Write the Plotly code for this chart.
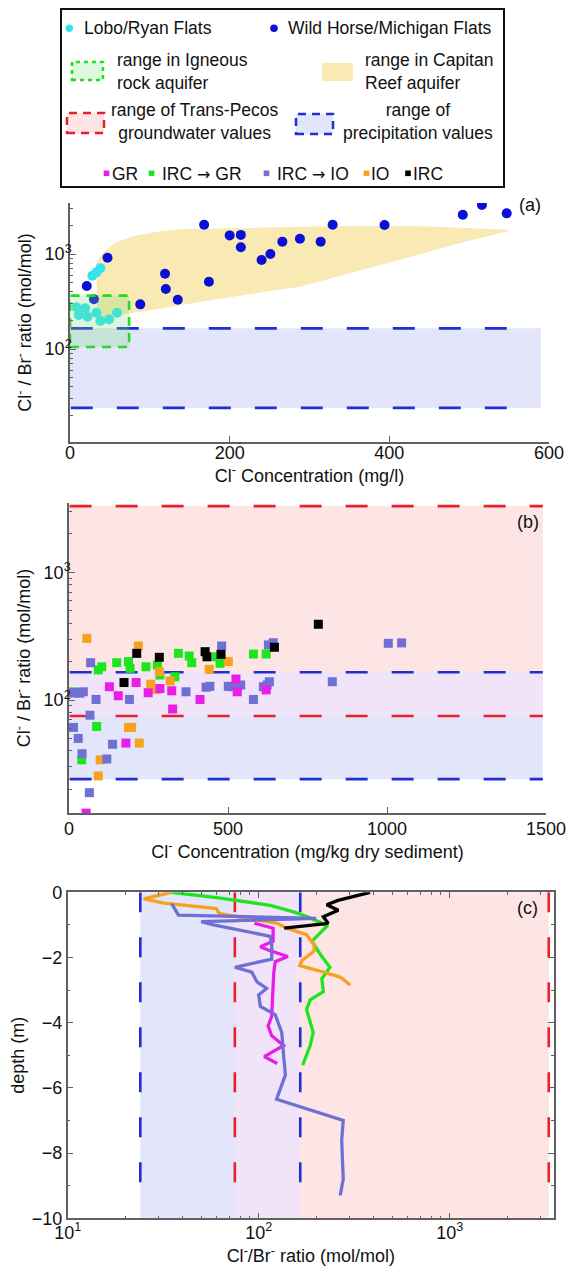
import plotly.graph_objects as go

W, H = 568, 1272
FONT = "Liberation Sans, Arial, sans-serif"

# ---------------- panel (a): groundwater samples ----------------
lobo_cl = [8, 11, 19, 22, 28, 33, 33, 38, 38, 49, 59]
lobo_ratio = [275, 228, 268, 219, 590, 640, 241, 710, 197, 205, 241]

wild_cl = [21, 30, 47, 88, 119, 120, 135, 168, 174, 200, 214, 214, 240, 251,
           266, 288, 314, 329, 394, 492, 516, 547]
wild_ratio = [460, 334, 915, 295, 620, 428, 330, 2030, 511, 1570, 1590, 1180,
              865, 1000, 1350, 1450, 1350, 2030, 2020, 2590, 3280, 2680]

# Capitan Reef aquifer envelope (upper edge left->right, lower edge right->left)
capitan_top_cl = [33, 40, 55, 80, 110, 140, 250, 350, 450, 549]
capitan_top_ratio = [820, 1000, 1300, 1550, 1720, 1830, 1900, 1980, 1950, 1800]
capitan_bot_cl = [549, 480, 420, 350, 288, 204, 138, 63, 34]
capitan_bot_ratio = [1750, 1250, 900, 620, 453, 355, 290, 228, 215]

# Igneous rock aquifer range
igneous_cl = [0, 74]
igneous_ratio = [105, 365]

# Reference ranges of Cl/Br ratio
precip_range = [24, 165]
transpecos_range = [75, 3300]
cl_extent_a = [0, 590]
cl_extent_b = [0, 1490]

# ---------------- panel (b): sediment samples ----------------
gr_cl = [54, 127, 155, 179, 211, 249, 286, 323, 326, 412, 525, 529, 620]
gr_ratio = [13, 127, 108, 46, 137, 114, 123, 118, 85, 101, 146, 116, 120]

ircgr_cl = [14, 40, 87, 92, 103, 150, 187, 192, 242, 278, 286, 333, 344, 378,
            386, 464, 475, 580, 620]
ircgr_ratio = [116, 34, 62, 172, 182, 196, 200, 177, 182, 188, 157, 152, 232,
               221, 196, 218, 194, 229, 229]

ircio_cl = [3, 14, 19, 34, 45, 68, 85, 66, 14, 29, 41, 64, 119, 137, 190, 368,
            431, 443, 480, 501, 512, 529, 540, 580, 611, 623, 630, 627, 642,
            828, 1004, 1046]
ircio_ratio = [114, 114, 114, 113, 116, 196, 101, 76, 61, 50, 38, 18.8, 34.5,
               45, 101, 116, 126, 128, 265, 128, 127, 127, 131, 101, 127, 131,
               139, 270, 281, 139, 278, 280]

io_cl = [56, 92, 98, 187, 197, 218, 221, 257, 276, 284, 318, 441, 501]
io_ratio = [304, 25.4, 34, 61, 61, 265, 46, 133, 121, 167, 141, 174, 200]

irc_cl = [173, 213, 284, 428, 434, 478, 646, 784]
irc_ratio = [137, 232, 216, 239, 218, 228, 259, 392]

# ---------------- panel (c): depth profiles ----------------
p_gr_depth = [-0.95, -1.1, -1.5, -1.67, -1.77, -1.97, -2.13, -2.45, -2.85,
              -3.55, -3.8, -4.1, -4.4, -4.7, -5.04, -5.25]
p_gr_ratio = [95, 119, 119, 102, 112, 142, 122, 120, 119, 117, 117, 112, 117,
              135, 107, 125]

p_ircgr_depth = [0, -0.18, -0.4, -0.6, -0.75, -0.95, -1.05, -1.3, -1.5, -1.9,
                 -2.3, -2.65, -3.05, -3.3, -3.6, -4.3, -4.7, -5.3]
p_ircgr_ratio = [35, 63, 115, 152, 180, 215, 227, 205, 190, 210, 236, 214, 218,
                 186, 178, 193, 186, 170]

p_ircio_depth = [-0.35, -0.7, -0.8, -0.9, -1.0, -1.35, -1.6, -2.05, -2.3, -2.45,
                 -2.75, -2.95, -3.15, -3.5, -3.75, -4.3, -5.0, -5.6, -6.35,
                 -7.0, -7.6, -8.8, -9.3]
p_ircio_ratio = [35, 38, 200, 50, 58, 115, 117, 117, 75, 92, 98, 110, 100, 102,
                 122, 132, 135, 138, 124, 277, 272, 277, 267]

p_io_depth = [0, -0.2, -0.33, -0.5, -0.65, -0.95, -1.1, -1.3, -1.6, -1.8, -2.1,
              -2.25, -2.4, -2.6, -2.85]
p_io_ratio = [35, 25, 32, 60, 62, 125, 140, 178, 195, 195, 168, 164, 205, 267,
              302]

p_irc_depth = [0, -0.25, -0.38, -0.55, -0.75, -0.95, -1.1]
p_irc_ratio = [383, 260, 227, 261, 218, 231, 136]

depth_extent = [-10, 0]

# ---------------- colours ----------------
C_CYAN = "#35e3ef"
C_BLUE = "#0b10d6"
C_GR = "#e81ee8"
C_IRCGR = "#1ee61e"
C_IRCIO = "#6f70d4"
C_IO = "#f7a21e"
C_IRC = "#000000"
C_BLUE_DASH = "#1f2fd0"
C_RED_DASH = "#e8202a"
FILL_BLUE = "#e3e6fa"
FILL_PINK = "#fde5e5"
FILL_BOTH = "#f1e4f8"
FILL_YELLOW = "#f9e9b3"
FILL_GREEN = "rgba(120,225,120,0.25)"
DASH = "22px,24px"
AXIS_GREY = "#606060"

fig = go.Figure()


def rect(xs, ys, color, xa, ya, line=None):
    """Filled rectangle spanning xs x ys, drawn as a closed scatter."""
    x0, x1 = xs
    y0, y1 = ys
    fig.add_trace(go.Scatter(
        x=[x0, x1, x1, x0, x0], y=[y0, y0, y1, y1, y0], mode="lines",
        fill="toself", fillcolor=color,
        line=line if line else dict(width=0, color=color),
        hoverinfo="skip", showlegend=False, xaxis=xa, yaxis=ya))


def hline(xs, yv, color, xa, ya):
    fig.add_trace(go.Scatter(
        x=list(xs), y=[yv, yv], mode="lines",
        line=dict(color=color, width=2.6, dash=DASH),
        hoverinfo="skip", showlegend=False, xaxis=xa, yaxis=ya))


def vline(xv, ys, color, xa, ya):
    fig.add_trace(go.Scatter(
        x=[xv, xv], y=[ys[1], ys[0]], mode="lines",
        line=dict(color=color, width=2.6, dash="20px,25px"),
        hoverinfo="skip", showlegend=False, xaxis=xa, yaxis=ya))


# ===== panel (a) =====
rect(cl_extent_a, precip_range, FILL_BLUE, "x", "y")
fig.add_trace(go.Scatter(
    x=capitan_top_cl + capitan_bot_cl + capitan_top_cl[:1],
    y=capitan_top_ratio + capitan_bot_ratio + capitan_top_ratio[:1],
    mode="lines", fill="toself", fillcolor=FILL_YELLOW,
    line=dict(width=0, color=FILL_YELLOW), hoverinfo="skip",
    showlegend=False, xaxis="x", yaxis="y"))
hline([cl_extent_a[0] + 1, cl_extent_a[1] - 25], precip_range[1], C_BLUE_DASH, "x", "y")
hline([cl_extent_a[0] + 1, cl_extent_a[1] - 25], precip_range[0], C_BLUE_DASH, "x", "y")
fig.add_trace(go.Scatter(
    x=lobo_cl, y=lobo_ratio, mode="markers", name="Lobo/Ryan Flats",
    marker=dict(color=C_CYAN, size=10), showlegend=False, xaxis="x", yaxis="y"))
fig.add_trace(go.Scatter(
    x=wild_cl, y=wild_ratio, mode="markers", name="Wild Horse/Michigan Flats",
    marker=dict(color=C_BLUE, size=10), showlegend=False, xaxis="x", yaxis="y"))
rect(igneous_cl, igneous_ratio, FILL_GREEN, "x", "y",
     line=dict(color="#22dd22", width=2.6, dash="9px,7px"))

# ===== panel (b) =====
rect(cl_extent_b, transpecos_range, FILL_PINK, "x2", "y2")
rect(cl_extent_b, [precip_range[0], transpecos_range[0]], FILL_BLUE, "x2", "y2")
rect(cl_extent_b, [transpecos_range[0], precip_range[1]], FILL_BOTH, "x2", "y2")
hline([cl_extent_b[0] + 2, cl_extent_b[1]], transpecos_range[1], C_RED_DASH, "x2", "y2")
hline([cl_extent_b[0] + 2, cl_extent_b[1]], precip_range[1], C_BLUE_DASH, "x2", "y2")
hline([cl_extent_b[0] + 2, cl_extent_b[1]], transpecos_range[0], C_RED_DASH, "x2", "y2")
hline([cl_extent_b[0] + 2, cl_extent_b[1]], precip_range[0], C_BLUE_DASH, "x2", "y2")

for xs, ys, col, nm in [(ircgr_cl, ircgr_ratio, C_IRCGR, "IRC → GR"),
                        (io_cl, io_ratio, C_IO, "IO"),
                        (ircio_cl, ircio_ratio, C_IRCIO, "IRC → IO"),
                        (gr_cl, gr_ratio, C_GR, "GR"),
                        (irc_cl, irc_ratio, C_IRC, "IRC")]:
    fig.add_trace(go.Scatter(
        x=xs, y=ys, mode="markers", name=nm,
        marker=dict(color=col, size=9, symbol="square"),
        showlegend=False, xaxis="x2", yaxis="y2"))

# ===== panel (c) =====
rect(transpecos_range, depth_extent, FILL_PINK, "x3", "y3")
rect([precip_range[0], transpecos_range[0]], depth_extent, FILL_BLUE, "x3", "y3")
rect([transpecos_range[0], precip_range[1]], depth_extent, FILL_BOTH, "x3", "y3")
vline(precip_range[0], [-9.4, 0], C_BLUE_DASH, "x3", "y3")
vline(transpecos_range[0], [-9.4, 0], C_RED_DASH, "x3", "y3")
vline(precip_range[1], [-9.4, 0], C_BLUE_DASH, "x3", "y3")
vline(transpecos_range[1], [-9.4, 0], C_RED_DASH, "x3", "y3")

for xs, ys, col, nm in [(p_ircgr_ratio, p_ircgr_depth, C_IRCGR, "IRC → GR"),
                        (p_io_ratio, p_io_depth, C_IO, "IO"),
                        (p_gr_ratio, p_gr_depth, C_GR, "GR"),
                        (p_ircio_ratio, p_ircio_depth, C_IRCIO, "IRC → IO"),
                        (p_irc_ratio, p_irc_depth, C_IRC, "IRC")]:
    fig.add_trace(go.Scatter(
        x=xs, y=ys, mode="lines", name=nm,
        line=dict(color=col, width=3.3),
        showlegend=False, xaxis="x3", yaxis="y3"))

# ---------------- axes ----------------
def px_x(p):
    return p / W


def px_y(p):
    return 1 - p / H


log_minor = [m * 10 ** k for k in range(0, 4) for m in range(2, 10)]
TICKFONT = dict(family=FONT, size=18, color="#111")
TITLEFONT = dict(family=FONT, size=18, color="#111")
sup = {1: "10<sup>1</sup>", 2: "10<sup>2</sup>", 3: "10<sup>3</sup>"}

base_axis = dict(showgrid=False, zeroline=False, showline=True,
                 linecolor=AXIS_GREY, linewidth=1.5, ticks="inside",
                 tickcolor=AXIS_GREY, ticklen=6, tickwidth=1.2,
                 tickfont=TICKFONT, title_font=TITLEFONT, automargin=False)

fig.update_layout(
    width=W, height=H, autosize=False,
    margin=dict(l=0, r=0, t=0, b=0),
    paper_bgcolor="white", plot_bgcolor="rgba(0,0,0,0)",
    font=dict(family=FONT, color="#111"),
    showlegend=False,
    xaxis=dict(base_axis, domain=[px_x(70), px_x(549)], range=[0, 600],
               tickvals=[0, 200, 400, 600], anchor="y", ticklabelstandoff=-6,
               title=dict(text="Cl<sup>-</sup> Concentration (mg/l)", standoff=0)),
    yaxis=dict(base_axis, type="log", domain=[px_y(442), px_y(203)],
               range=[1.021, 3.537], tickvals=[100, 1000],
               ticktext=[sup[2], sup[3]], anchor="x", ticklabelstandoff=-7,
               minor=dict(tickvals=log_minor, ticks="inside", ticklen=3,
                          tickcolor=AXIS_GREY),
               title=dict(text="Cl<sup>-</sup> / Br<sup>-</sup> ratio (mol/mol)",
                          standoff=8)),
    xaxis2=dict(base_axis, domain=[px_x(69), px_x(546)], range=[0, 1500],
                tickvals=[0, 500, 1000, 1500], anchor="y2", ticklabelstandoff=-1,
                title=dict(text="Cl<sup>-</sup> Concentration (mg/kg dry sediment)",
                           standoff=0)),
    yaxis2=dict(base_axis, type="log", domain=[px_y(813), px_y(503)],
                range=[1.115, 3.543], tickvals=[100, 1000],
                ticktext=[sup[2], sup[3]], anchor="x2", ticklabelstandoff=-7,
                minor=dict(tickvals=log_minor, ticks="inside", ticklen=3,
                           tickcolor=AXIS_GREY),
                title=dict(text="Cl<sup>-</sup> / Br<sup>-</sup> ratio (mol/mol)",
                           standoff=8)),
    xaxis3=dict(base_axis, type="log", domain=[px_x(67.7), px_x(554)],
                range=[1, 3.546], tickvals=[10, 100, 1000],
                ticktext=[sup[1], sup[2], sup[3]], anchor="y3", mirror="ticks",
                ticklabelstandoff=-3,
                minor=dict(tickvals=log_minor, ticks="inside", ticklen=3,
                           tickcolor=AXIS_GREY),
                title=dict(text="Cl<sup>-</sup>/Br<sup>-</sup> ratio (mol/mol)",
                           standoff=8)),
    yaxis3=dict(base_axis, domain=[px_y(1218.3), px_y(892.3)], range=[-10, 0],
                tickvals=[0, -2, -4, -6, -8, -10], anchor="x3", mirror="ticks",
                minor=dict(dtick=1, ticks="inside", ticklen=3,
                           tickcolor=AXIS_GREY),
                title=dict(text="depth (m)", standoff=2)),
)

# ---------------- panel tags ----------------
annotations = []
for tag, x, y in [("(a)", 530, 205), ("(b)", 528, 522), ("(c)", 527, 908)]:
    annotations.append(dict(text=tag, x=px_x(x), y=px_y(y), xref="paper",
                            yref="paper", showarrow=False, xanchor="center",
                            yanchor="middle",
                            font=dict(family=FONT, size=18, color="#111")))

# ---------------- legend box ----------------
LEG = dict(family=FONT, size=17.5, color="#111")
shapes = [dict(type="rect", xref="paper", yref="paper",
               x0=px_x(61), x1=px_x(504), y0=px_y(187), y1=px_y(9),
               line=dict(color="#111", width=2), fillcolor="white", layer="above")]


def leg_text(txt, x, y, anchor="left", align="left"):
    annotations.append(dict(text=txt, x=px_x(x), y=px_y(y), xref="paper",
                            yref="paper", showarrow=False, xanchor=anchor,
                            yanchor="middle", align=align, font=LEG))


def leg_rect(x0, y0, x1, y1, fill, line_color=None, dash=None, w=2.5):
    shapes.append(dict(type="rect", xref="paper", yref="paper",
                       x0=px_x(x0), x1=px_x(x1), y0=px_y(y1), y1=px_y(y0),
                       fillcolor=fill, layer="above",
                       line=dict(color=line_color or fill,
                                 width=w if line_color else 0,
                                 dash=dash or "solid")))


def leg_dot(cx, cy, r, color):
    shapes.append(dict(type="circle", xref="paper", yref="paper",
                       x0=px_x(cx - r), x1=px_x(cx + r),
                       y0=px_y(cy + r), y1=px_y(cy - r),
                       fillcolor=color, line=dict(width=0), layer="above"))


leg_dot(69.3, 28.3, 3.8, C_CYAN)
leg_text("Lobo/Ryan Flats", 82, 28.5)
leg_dot(274, 28.3, 3.8, C_BLUE)
leg_text("Wild Horse/Michigan Flats", 286, 28.5)

leg_rect(72, 62, 103, 80, "rgba(160,235,160,0.35)", "#22dd22", "4px,4px")
leg_text("range in Igneous<br>rock aquifer", 115, 72)
leg_rect(322, 63, 353, 81, FILL_YELLOW)
leg_text("range in Capitan<br>Reef aquifer", 363, 72)

leg_rect(67, 113, 104, 133, FILL_PINK, C_RED_DASH, "8px,6px")
leg_text("range of Trans-Pecos<br>groundwater values", 195, 121.5, "center", "center")
leg_rect(296, 114, 333, 134, FILL_BLUE, C_BLUE_DASH, "8px,6px")
leg_text("range of<br>precipitation values", 418, 121.5, "center", "center")

ARROW = "<span style='font-family:DejaVu Sans;font-size:16px'>→</span>"
for cx, col, txt, tx in [(106.5, C_GR, "GR", 110),
                         (151.5, C_IRCGR, "IRC " + ARROW + " GR", 160),
                         (266.5, C_IRCIO, "IRC " + ARROW + " IO", 275),
                         (366.5, C_IO, "IO", 369),
                         (408, C_IRC, "IRC", 411)]:
    leg_rect(cx - 2.8, 170.5, cx + 2.8, 176.1, col)
    leg_text(txt, tx, 173.5)

fig.update_layout(shapes=shapes, annotations=annotations)

fig.write_html("out.html")
